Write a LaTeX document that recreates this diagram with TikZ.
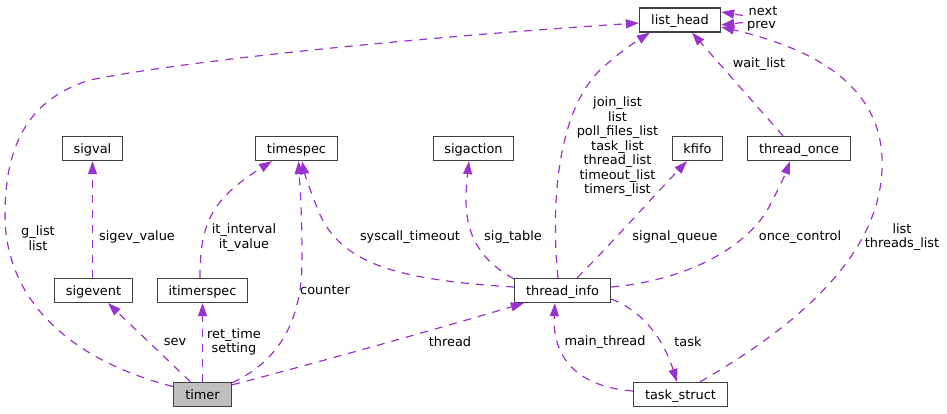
\documentclass[tikz,border=0pt]{standalone}
\usepackage{fontspec}
\setmainfont{DejaVu Sans}
\usetikzlibrary{arrows.meta,calc}
\definecolor{edgec}{HTML}{9A32CD}
\definecolor{boxc}{HTML}{404040}
\definecolor{mainfill}{HTML}{BFBFBF}
\begin{document}
\begin{tikzpicture}[x=1pt,y=-1pt,
  font=\fontsize{12.9}{14.5}\selectfont,
  box/.style={draw=boxc, line width=1.3pt, fill=white, minimum height=24pt,
    inner xsep=0pt, inner ysep=0pt, text height=11pt, text depth=2pt},
  mainbox/.style={box, fill=mainfill},
  edge/.style={draw=edgec, line width=1.2pt, dash pattern=on 8pt off 7pt,
    -{Triangle[length=13pt,width=9pt]}},
  lbl/.style={align=center, inner sep=0pt, font=\fontsize{12.9}{14.5}\selectfont}]
\useasboundingbox (0,0) rectangle (947,413);
% nodes
\node[box, minimum width=81pt] (list_head) at (680,20) {list\_head};
\node[box, minimum width=60pt] (sigval) at (92.5,148.5) {sigval};
\node[box, minimum width=82pt] (timespec) at (296.5,148.5) {timespec};
\node[box, minimum width=80pt] (sigaction) at (473.5,148.5) {sigaction};
\node[box, minimum width=50pt] (kfifo) at (697.5,148.5) {kfifo};
\node[box, minimum width=103pt] (thread_once) at (799,148.5) {thread\_once};
\node[box, minimum width=78pt] (sigevent) at (93.5,290.5) {sigevent};
\node[box, minimum width=90pt] (itimerspec) at (202.5,290.5) {itimerspec};
\node[box, minimum width=96pt] (thread_info) at (562.5,290.5) {thread\_info};
\node[mainbox, minimum width=58pt] (timer) at (202.5,394.5) {timer};
\node[box, minimum width=94pt] (task_struct) at (680.5,394.5) {task\_struct};
\coordinate (nexttail) at (743,15.5);
\coordinate (prevtail) at (743,22.5);
% edges
\draw[edge] ($(timer.west)+(0,-8)$) .. controls (70,360) and (5,300) .. (5,215)
  .. controls (5,150) and (25,100) .. (90,80)
  .. controls (200,58) and (450,35) .. ($(list_head.west)+(0,3)$);
\draw[edge] ($(timer.north)+(-12,0)$) -- ($(sigevent.south)+(14.5,0)$);
\draw[edge] (timer.north) -- (itimerspec.south);
\draw[edge] ($(timer.north east)+(0,1)$) .. controls (280,360) and (302,320) .. (302,260)
  .. controls (302,210) and (300,190) .. ($(timespec.south)+(2,0)$);
\draw[edge] ($(timer.north east)+(0,3)$) .. controls (320,362) and (440,328) .. ($(thread_info.south west)+(10,0)$);
\draw[edge] ($(sigevent.north)+(-1,0)$) -- (sigval.south);
\draw[edge] ($(itimerspec.north)+(-2.5,0)$) .. controls (200,225) and (210,200) .. ($(timespec.south)+(-24.5,0)$);
\draw[edge] ($(thread_info.west)+(0,-3.5)$) .. controls (400,280) and (340,265) .. (318,210)
  .. controls (310,190) and (305,175) .. ($(timespec.south)+(5.5,0)$);
\draw[edge] ($(thread_info.north west)+(0,1)$) .. controls (480,260) and (466,235) .. (466,200)
  .. controls (466,185) and (468,170) .. ($(sigaction.south)+(-4.5,0)$);
\draw[edge] ($(thread_info.north)+(-4.5,0)$) .. controls (553,230) and (550,120) .. (600,70)
  .. controls (620,52) and (635,42) .. ($(list_head.south west)+(11,0)$);
\draw[edge] ($(thread_info.north)+(14.5,0)$) .. controls (610,245) and (650,200) .. ($(kfifo.south)+(-10.5,0)$);
\draw[edge] ($(thread_info.east)+(0,-3.5)$) .. controls (690,280) and (750,245) .. (770,205)
  .. controls (778,190) and (785,175) .. ($(thread_once.south)+(-9,0)$);
\draw[edge] ($(thread_info.east)+(0,8.5)$) .. controls (640,310) and (662,335) .. ($(task_struct.north)+(-3.5,0)$);
\draw[edge] ($(task_struct.west)+(0,-3.5)$) .. controls (580,387) and (552,360) .. ($(thread_info.south)+(-7.5,0)$);
\draw[edge] ($(task_struct.north)+(19.5,0)$) .. controls (790,330) and (878,260) .. (882,170)
  .. controls (886,90) and (820,50) .. ($(list_head.east)+(0,7)$);
\draw[edge] ($(thread_once.north)+(-16,0)$) -- ($(list_head.south)+(12,0)$);
\draw[edge] (nexttail) -- ($(list_head.east)+(0,-8)$);
\draw[edge] (prevtail) -- ($(list_head.east)+(0,5)$);
% labels
\node[lbl] (l_glist) at (38,238) {g\_list\\list};
\node[lbl] (l_sigev) at (137,237) {sigev\_value};
\node[lbl] (l_itint) at (244,237.5) {it\_interval\\it\_value};
\node[lbl] (l_counter) at (325,290) {counter};
\node[lbl] (l_sev) at (175,342) {sev};
\node[lbl] (l_ret) at (234,342) {ret\_time\\setting};
\node[lbl] (l_thread) at (450,342) {thread};
\node[lbl] (l_sys) at (410,237) {syscall\_timeout};
\node[lbl] (l_sigt) at (513,237) {sig\_table};
\node[lbl] (l_lists) at (617.5,147) {join\_list\\list\\poll\_files\_list\\task\_list\\thread\_list\\timeout\_list\\timers\_list};
\node[lbl] (l_sigq) at (675,237) {signal\_queue};
\node[lbl] (l_once) at (800,237) {once\_control};
\node[lbl] (l_task) at (688,342) {task};
\node[lbl] (l_main) at (605,342) {main\_thread};
\node[lbl] (l_thl) at (902,237) {list\\threads\_list};
\node[lbl] (l_wait) at (759,64) {wait\_list};
\node[lbl] (l_next) at (763,11) {next};
\node[lbl] (l_prev) at (761.5,26) {prev};
\end{tikzpicture}
\end{document}
